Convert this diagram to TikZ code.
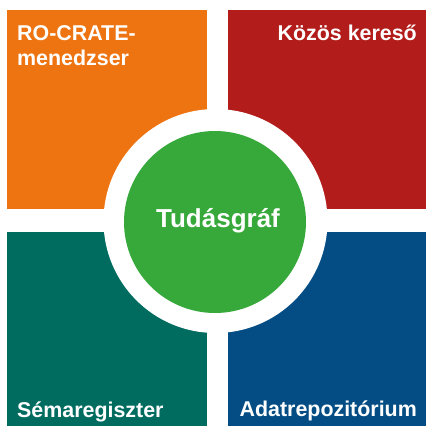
\documentclass[tikz,border=0pt]{standalone}
\usepackage{fontspec}
\setmainfont{Liberation Sans}
\definecolor{qorange}{HTML}{EE7412}
\definecolor{qred}{HTML}{B21C1A}
\definecolor{qteal}{HTML}{006C60}
\definecolor{qblue}{HTML}{044D84}
\definecolor{qgreen}{HTML}{37A93A}
\begin{document}
\begin{tikzpicture}[x=1pt,y=-1pt,
  lbl/.style={text=white, font=\fontsize{21.4}{25}\selectfont\bfseries, inner sep=0pt, align=left},
  clbl/.style={text=white, font=\fontsize{26}{30}\selectfont\bfseries, inner sep=0pt}]
\useasboundingbox[fill=white] (0,0) rectangle (426,426);
\fill[qorange] (7,10) rectangle (207,208.5);
\fill[qred] (228,10) rectangle (426,208.5);
\fill[qteal] (7,232) rectangle (207,426);
\fill[qblue] (228,232) rectangle (426,426);
\fill[white] (215.5,221) circle[radius=112];
\node[circle, fill=qgreen, minimum size=182pt, inner sep=0pt] (kg) at (215,222) {};
\node[clbl, anchor=base] (kgt) at (218,227) {Tudásgráf};
\node[lbl, anchor=base west] (ro1) at (17,40) {RO-CRATE-};
\node[lbl, anchor=base west] (ro2) at (17,65) {menedzser};
\node[lbl, anchor=base east] (ks) at (417,40) {Közös kereső};
\node[lbl, anchor=base west] (sr) at (17,417) {Sémaregiszter};
\node[lbl, anchor=base east] (ar) at (417,416) {Adatrepozitórium};
\end{tikzpicture}
\end{document}
